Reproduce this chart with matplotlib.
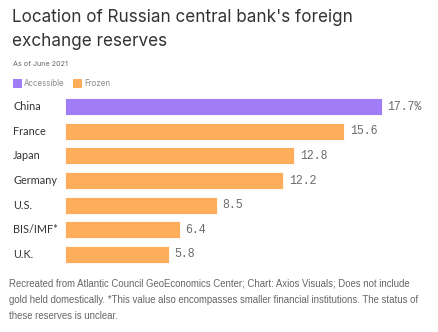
import matplotlib
matplotlib.use("Agg")
import matplotlib.pyplot as plt
from matplotlib.patches import Rectangle

categories = ["China", "France", "Japan", "Germany", "U.S.", "BIS/IMF*", "U.K."]
values = [17.7, 15.6, 12.8, 12.2, 8.5, 6.4, 5.8]
status = ["Accessible", "Frozen", "Frozen", "Frozen", "Frozen", "Frozen", "Frozen"]
value_labels = ["17.7%", "15.6", "12.8", "12.2", "8.5", "6.4", "5.8"]

colors = {"Accessible": "#a07cf7", "Frozen": "#ffad5a"}

W, H = 438, 332
fig = plt.figure(figsize=(W / 100, H / 100), dpi=100)
fig.patch.set_facecolor("white")

def fx(px):
    return px / W

def fy(py):
    return 1 - py / H

ax = fig.add_axes([fx(65), fy(266.8), fx(373), (266.8 - 94.2) / H])
ypos = list(range(len(categories)))
ax.barh(ypos, values, height=0.69, color=[colors[s] for s in status],
        edgecolor="white", linewidth=0.6)
ax.set_ylim(len(categories) - 0.5, -0.5)
ax.set_xlim(0, 373 / 17.9)
ax.axis("off")

for y, v, lab in zip(ypos, values, value_labels):
    ax.annotate(lab, (v, y), xytext=(4, 0), textcoords="offset points",
                ha="left", va="center", fontsize=8.3, color="#6a6a6a",
                family="Liberation Mono")

for y, c in zip(ypos, categories):
    ax.annotate(c, (fx(13), y), xycoords=("figure fraction", "data"),
                ha="left", va="center", fontsize=7.8, color="#333333",
                family="Lato")

fig.text(fx(12), fy(17), "Location of Russian central bank's foreign",
         fontsize=12.3, color="#333333", family="Inter",
         va="center", ha="left")
fig.text(fx(12), fy(41), "exchange reserves",
         fontsize=12.3, color="#333333", family="Inter",
         va="center", ha="left")
fig.text(fx(13), fy(64), "As of June 2021", fontsize=5.2, color="#666666",
         family="Inter", va="center", ha="left")

fig.patches.append(Rectangle((fx(13), fy(88)), fx(9), 9 / H, transform=fig.transFigure,
                             facecolor=colors["Accessible"], edgecolor="none"))
fig.text(fx(24), fy(83.5), "Accessible", fontsize=5.7, color="#888888",
         family="Inter", va="center", ha="left")
fig.patches.append(Rectangle((fx(73), fy(88)), fx(9), 9 / H, transform=fig.transFigure,
                             facecolor=colors["Frozen"], edgecolor="none"))
fig.text(fx(84), fy(83.5), "Frozen", fontsize=5.7, color="#888888",
         family="Inter", va="center", ha="left")

footer = ["Recreated from Atlantic Council GeoEconomics Center; Chart: Axios Visuals; Does not include",
          "gold held domestically. *This value also encompasses smaller financial institutions. The status of",
          "these reserves is unclear."]
for i, line in enumerate(footer):
    fig.text(fx(9), fy(284 + 16 * i), line, fontsize=6.9, color="#666666",
             family="Liberation Sans", va="center", ha="left")

fig.savefig("out.png", dpi=100, facecolor="white")
